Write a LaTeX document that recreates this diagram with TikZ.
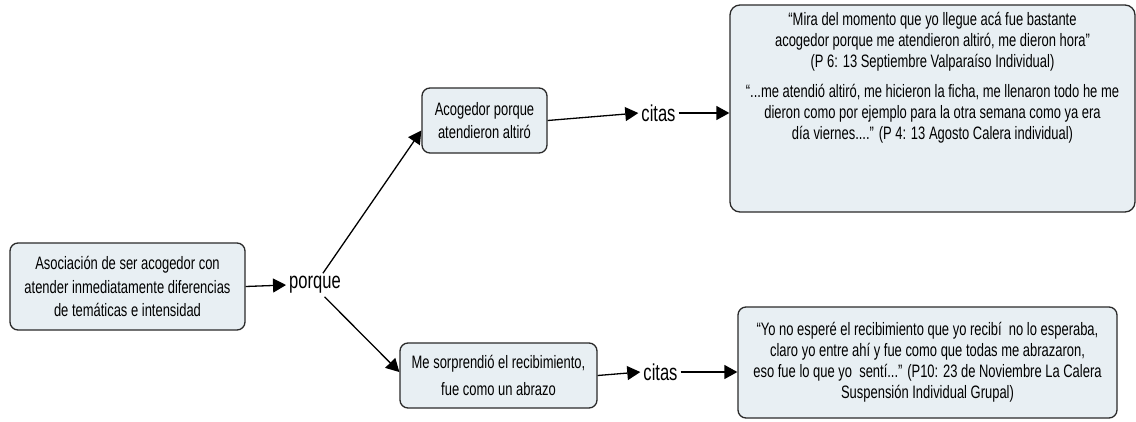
\documentclass[tikz,border=0pt]{standalone}
\usepackage{fontspec}
\setmainfont{Liberation Sans}[FakeStretch=0.72]
\usetikzlibrary{arrows.meta,calc}
\definecolor{boxfill}{HTML}{E8EFF3}
\definecolor{boxline}{HTML}{2A2A2A}
\tikzset{
  cbox/.style={draw=boxline, fill=boxfill, line width=1.3pt, rounded corners=8pt, inner sep=0pt, align=center},
  lbl/.style={inner sep=3pt, font=\fontsize{23}{26}\selectfont},
  conn/.style={line width=1.3pt, -{Triangle[length=13pt,width=14pt]}},
  txt/.style={font=\fontsize{18}{21}\selectfont, align=center}
}
\begin{document}
\begin{tikzpicture}[x=1pt,y=-1pt]
\useasboundingbox (0,0) rectangle (1136,421);
% boxes
\node[cbox, txt, minimum width=235pt, minimum height=87pt, font=\fontsize{18}{23.5}\selectfont] (A) at (127.5,286.5)
  {Asociación de ser acogedor con\\atender inmediatamente diferencias\\de temáticas e intensidad};
\node[cbox, txt, minimum width=125pt, minimum height=65pt, font=\fontsize{18}{23}\selectfont] (B) at (484.5,120.5)
  {Acogedor porque\\atendieron altiró};
\node[cbox, minimum width=405pt, minimum height=207pt, rounded corners=10pt] (C) at (932.5,108.5) {};
\node[txt] (Ct) at (932.5,77.5)
  {“Mira del momento que yo llegue acá fue bastante\\acogedor porque me atendieron altiró, me dieron hora”\\(P 6: 13 Septiembre Valparaíso Individual)\\[9pt]
   “...me atendió altiró, me hicieron la ficha, me llenaron todo he me\\dieron como por ejemplo para la otra semana como ya era\\día viernes....” (P 4: 13 Agosto Calera individual)};
\node[cbox, txt, minimum width=197pt, minimum height=65pt, font=\fontsize{18}{27}\selectfont] (D) at (498.5,375.5)
  {Me sorprendió el recibimiento,\\fue como un abrazo};
\node[cbox, txt, minimum width=379pt, minimum height=111pt] (E) at (927.5,362.5)
  {“Yo no esperé el recibimiento que yo recibí~ no lo esperaba,\\claro yo entre ahí y fue como que todas me abrazaron,\\eso fue lo que yo~ sentí...” (P10: 23 de Noviembre La Calera\\Suspensión Individual Grupal)};
% linking phrases
\node[lbl] (P) at (315,285) {porque};
\node[lbl] (C1) at (658.5,113) {citas};
\node[lbl] (C2) at (660.5,372) {citas};
% connectors
\draw[conn] (A.east) -- (P.west);
\draw[conn] (P.56) -- (B.189);
\draw[conn] (P.-51) -- (D.178);
\draw[conn] (B.east) -- (C1.west);
\draw[conn] (C1.east) -- (C1.east -| C.west);
\draw[conn] (D.east) -- (C2.west);
\draw[conn] (C2.east) -- (C2.east -| E.west);
\end{tikzpicture}
\end{document}
